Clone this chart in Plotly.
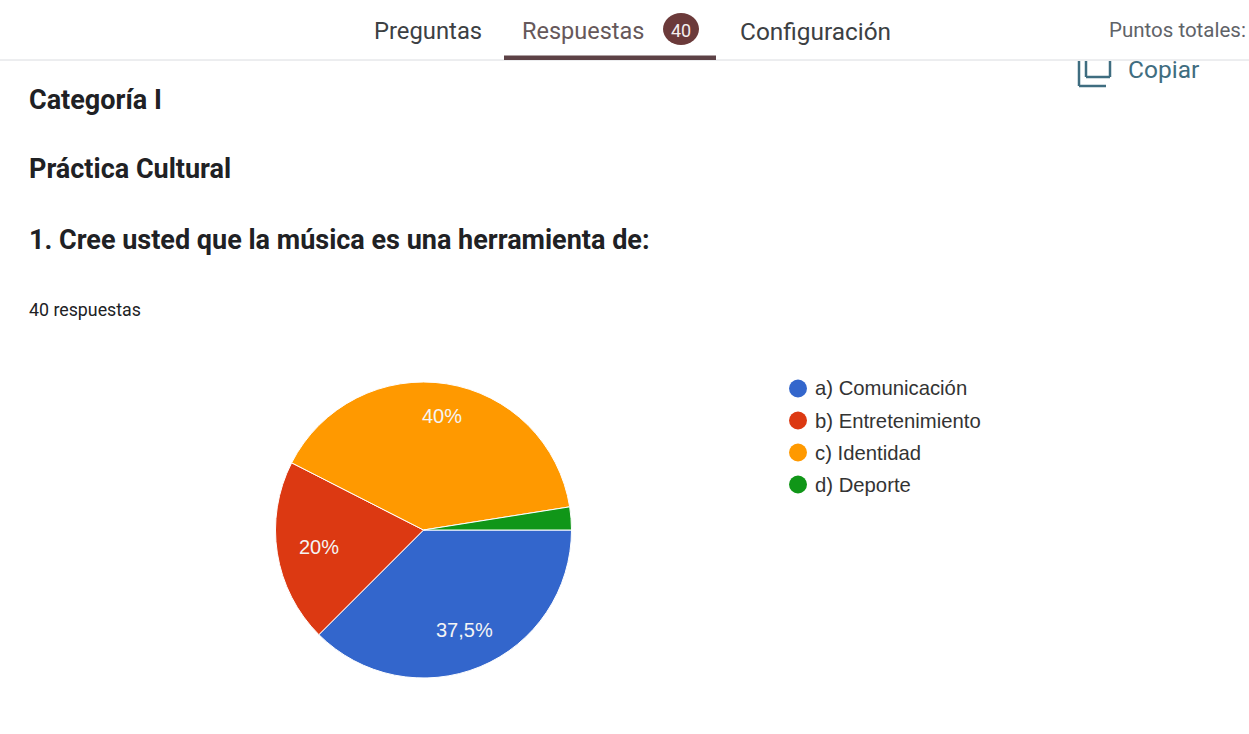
import math
import plotly.graph_objects as go

categories = ["a) Comunicación", "b) Entretenimiento", "c) Identidad", "d) Deporte"]
values = [37.5, 20, 40, 2.5]
pie_labels = ["37,5%", "20%", "40%", ""]
label_radius = [0.73, 0.716, 0.78, 0]
colors = ["#3366cc", "#dc3912", "#ff9900", "#109618"]
tabs = [("Preguntas", 428, 23.8, "#3c4043"), ("Respuestas", 583, 23.5, "#66585a"), ("Configuración", 815, 24.4, "#3c4043")]
headings = [("Categoría I", 100), ("Práctica Cultural", 169), ("1. Cree usted que la música es una herramienta de:", 240)]

W, H = 1249, 734
CX, CY, R = 423.5, 530, 148


def px(x):
    return x / W


def py(y):
    return 1 - y / H


def label(text, x, y, size, color, family="Roboto", anchor="left"):
    return dict(text=text, x=px(x), y=py(y), xref="paper", yref="paper", showarrow=False,
                xanchor=anchor, yanchor="middle", font=dict(size=size, color=color, family=family))


def line(x0, y0, x1, y1, color, width):
    return dict(type="line", xref="paper", yref="paper", x0=px(x0), x1=px(x1), y0=py(y0), y1=py(y1),
                line=dict(color=color, width=width))


def blob(kind, x0, y0, x1, y1, color):
    return dict(type=kind, xref="paper", yref="paper", x0=px(x0), x1=px(x1), y0=py(y1), y1=py(y0),
                fillcolor=color, line=dict(width=0))


fig = go.Figure()
fig.add_trace(go.Pie(
    labels=categories, values=values, textinfo="none",
    sort=False, direction="clockwise", rotation=90,
    marker=dict(colors=colors, line=dict(color="white", width=1)),
    domain=dict(x=[px(CX - R), px(CX + R)], y=[py(CY + R), py(CY - R)]),
    showlegend=False,
))

shapes = [
    line(0, 60, W, 60, "#dadce0", 1),
    blob("rect", 504, 55.5, 716, 60, "#5d4246"),
    blob("circle", 663, 13, 699, 45, "#6b3a3a"),
    line(1079, 61, 1079, 86, "#3f6d80", 2.5),
    line(1079, 86, 1106, 86, "#3f6d80", 2.5),
    line(1086, 61, 1086, 77, "#3f6d80", 2.5),
    line(1086, 77, 1110, 77, "#3f6d80", 2.5),
    line(1110, 77, 1110, 61, "#3f6d80", 2.5),
]

ann = []
for t, x, s, c in tabs:
    ann.append(label(t, x, 31, s, c, anchor="center"))
ann.append(label("40", 681, 30, 18, "#f5eeee", anchor="center"))
ann.append(label("Puntos totales:", 1248, 30, 20.5, "#5f6368", anchor="right"))
ann.append(label("Copiar", 1126, 70, 24.5, "#3f6d80"))
for t, y in headings:
    ann.append(label(f"<b>{t}</b>", 27, y, 27, "#202124"))
ann.append(label("40 respuestas", 27, 309, 17.8, "#202124"))

# Pie percentages sit along each slice's middle direction, derived from the values
total = sum(values)
cum = 0
for v, t, f in zip(values, pie_labels, label_radius):
    mid = (cum + v / 2) / total * 2 * math.pi
    cum += v
    if t:
        ann.append(label(t, CX + f * R * math.cos(mid), CY + f * R * math.sin(mid), 20, "#f4f4f4",
                         family="Liberation Sans", anchor="center"))

for i, (c, col) in enumerate(zip(categories, colors)):
    y = 388.5 + i * 32
    shapes.append(blob("circle", 789, y - 9, 807, y + 9, col))
    ann.append(label(c, 813, y, 20.3, "#333333", family="Liberation Sans"))

fig.update_layout(width=W, height=H, margin=dict(l=0, r=0, t=0, b=0), paper_bgcolor="white",
                  annotations=ann, shapes=shapes)
fig.write_html("out.html", config=dict(displayModeBar=False), post_script="document.body.style.margin='0';")
